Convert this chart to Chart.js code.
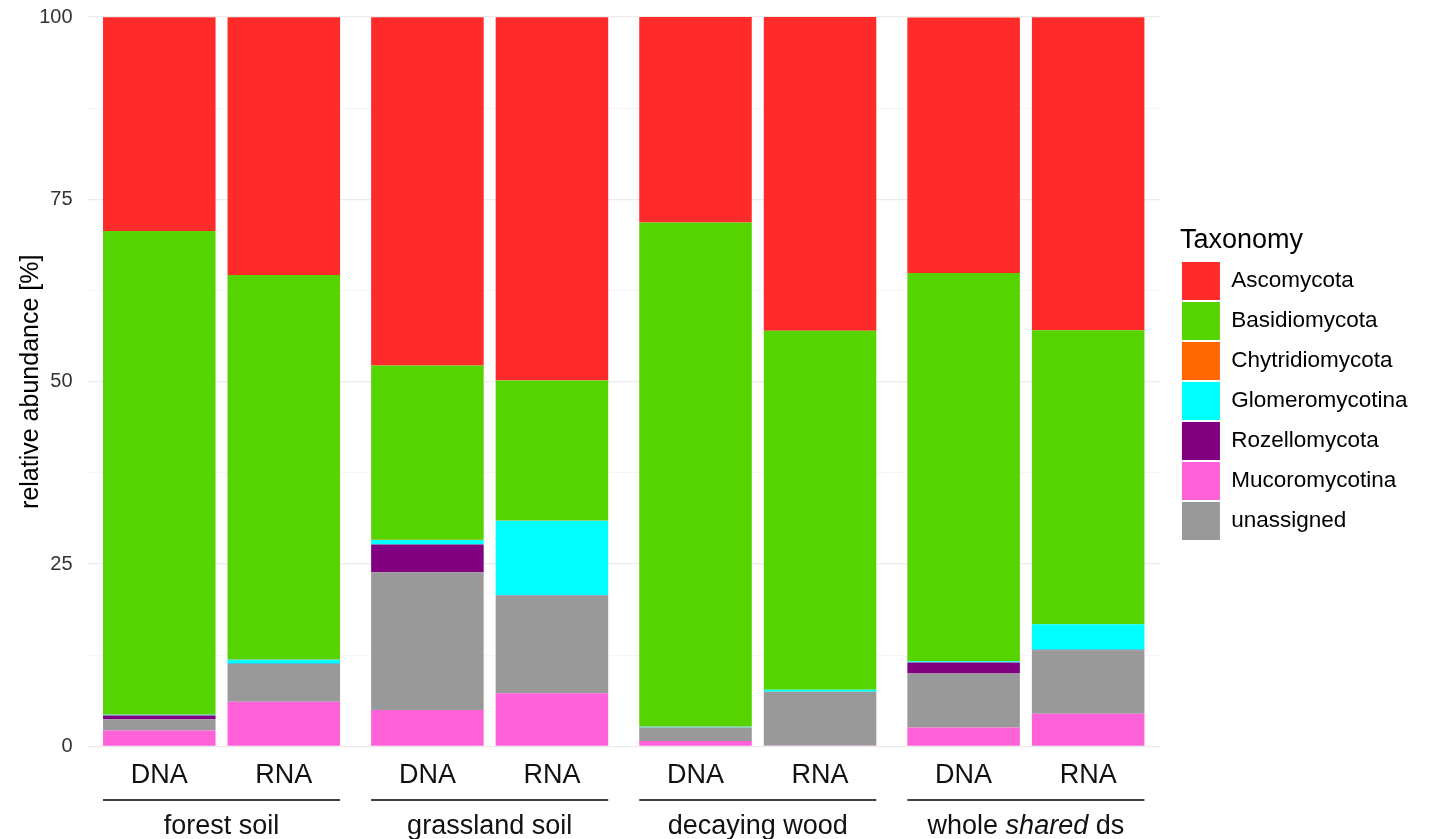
<!DOCTYPE html>
<html>
<head>
<meta charset="utf-8">
<script src="https://cdn.jsdelivr.net/npm/chart.js@4"></script>
<style>
  html, body { margin: 0; padding: 0; background: #fff; }
  #wrap { width: 1430px; height: 839px; }
</style>
</head>
<body>
<div id="wrap"><canvas id="barchart-taxonomy"></canvas></div>
<script>
var groups = ['forest soil', 'grassland soil', 'decaying wood', 'whole *shared* ds'];
var nucleic = ['DNA', 'RNA'];
var taxa = ['Ascomycota', 'Basidiomycota', 'Chytridiomycota', 'Glomeromycotina',
  'Rozellomycota', 'Mucoromycotina', 'unassigned'];
// bottom to top in each bar
var stackOrder = ['Mucoromycotina', 'unassigned', 'Rozellomycota', 'Glomeromycotina',
  'Chytridiomycota', 'Basidiomycota', 'Ascomycota'];

// relative abundance [%], one value per group (forest, grassland, wood, whole)
var ascomycotaDNA = [29.3, 47.75, 28.16, 35.0];
var ascomycotaRNA = [35.35, 49.8, 43.0, 42.9];
var basidiomycotaDNA = [66.3, 23.9, 69.1, 53.2];
var basidiomycotaRNA = [52.7, 19.2, 49.2, 40.3];
var chytridiomycotaDNA = [0.02, 0.03, 0.02, 0.02];
var chytridiomycotaRNA = [0.02, 0.02, 0.02, 0.02];
var glomeromycotinaDNA = [0.1, 0.6, 0.1, 0.2];
var glomeromycotinaRNA = [0.55, 10.2, 0.25, 3.5];
var rozellomycotaDNA = [0.5, 3.8, 0.02, 1.5];
var rozellomycotaRNA = [0.05, 0.05, 0.02, 0.05];
var mucoromycotinaDNA = [2.2, 5.0, 0.75, 2.6];
var mucoromycotinaRNA = [6.15, 7.3, 0.15, 4.5];
var unassignedDNA = [1.55, 18.9, 1.85, 7.4];
var unassignedRNA = [5.15, 13.4, 7.35, 8.7];

var yTicks = [0, 25, 50, 75, 100];

var values = {
  Ascomycota: { DNA: ascomycotaDNA, RNA: ascomycotaRNA },
  Basidiomycota: { DNA: basidiomycotaDNA, RNA: basidiomycotaRNA },
  Chytridiomycota: { DNA: chytridiomycotaDNA, RNA: chytridiomycotaRNA },
  Glomeromycotina: { DNA: glomeromycotinaDNA, RNA: glomeromycotinaRNA },
  Rozellomycota: { DNA: rozellomycotaDNA, RNA: rozellomycotaRNA },
  Mucoromycotina: { DNA: mucoromycotinaDNA, RNA: mucoromycotinaRNA },
  unassigned: { DNA: unassignedDNA, RNA: unassignedRNA }
};

var colors = {
  Ascomycota: '#ff2b2b',
  Basidiomycota: '#55d400',
  Chytridiomycota: '#ff6600',
  Glomeromycotina: '#00ffff',
  Rozellomycota: '#800080',
  Mucoromycotina: '#ff61d8',
  unassigned: '#999999'
};

var FONT = '"Liberation Sans", Arial, Helvetica, sans-serif';

var datasets = [];
stackOrder.forEach(function (taxon) {
  nucleic.forEach(function (n) {
    datasets.push({
      label: taxon,
      stack: n,
      data: values[taxon][n],
      backgroundColor: colors[taxon],
      borderWidth: 0,
      categoryPercentage: 0.929,
      barPercentage: 0.9036
    });
  });
});

// DNA / RNA under each bar, a rule under each pair, then the group name
var facetLabels = {
  id: 'facetLabels',
  afterDraw: function (chart) {
    var ctx = chart.ctx;
    var dnaMeta = chart.getDatasetMeta(0);
    var rnaMeta = chart.getDatasetMeta(1);
    ctx.save();
    ctx.fillStyle = '#111';
    ctx.textBaseline = 'alphabetic';
    ctx.textAlign = 'center';
    ctx.font = '27px ' + FONT;
    groups.forEach(function (g, i) {
      var d = dnaMeta.data[i], r = rnaMeta.data[i];
      ctx.fillText(nucleic[0], d.x, 783);
      ctx.fillText(nucleic[1], r.x, 783);

      var x0 = d.x - d.width / 2, x1 = r.x + r.width / 2;
      ctx.strokeStyle = '#000';
      ctx.lineWidth = 1.6;
      ctx.beginPath();
      ctx.moveTo(x0, 800);
      ctx.lineTo(x1, 800);
      ctx.stroke();

      // group name, *text* in italics
      var parts = g.split('*');
      var widths = parts.map(function (p, k) {
        ctx.font = (k % 2 ? 'italic ' : '') + '27px ' + FONT;
        return ctx.measureText(p).width;
      });
      var total = widths.reduce(function (a, b) { return a + b; }, 0);
      var x = (x0 + x1) / 2 - total / 2;
      ctx.textAlign = 'left';
      parts.forEach(function (p, k) {
        ctx.font = (k % 2 ? 'italic ' : '') + '27px ' + FONT;
        ctx.fillText(p, x, 834);
        x += widths[k];
      });
      ctx.textAlign = 'center';
      ctx.font = '27px ' + FONT;
    });
    ctx.restore();
  }
};

// push the legend a bit off the plot panel
var legendNudge = {
  id: 'legendNudge',
  afterLayout: function (chart) {
    chart.legend.left += 20;
    chart.legend.right += 20;
  }
};

var ctx = document.getElementById('barchart-taxonomy').getContext('2d');

var chart = new Chart(ctx, {
  type: 'bar',
  data: {
    labels: groups.map(function (g) { return g.replace(/\*/g, ''); }),
    datasets: datasets
  },
  plugins: [legendNudge, facetLabels],
  options: {
    responsive: true,
    maintainAspectRatio: false,
    animation: false,
    layout: { padding: { top: 17, right: 32.5, bottom: 0, left: 0 } },
    plugins: {
      tooltip: { enabled: false },
      legend: {
        position: 'right',
        align: 'center',
        fullSize: false,
        title: {
          display: true,
          text: 'Taxonomy',
          position: 'start',
          color: '#000',
          font: { family: FONT, size: 27 },
          padding: { top: 5, bottom: 1 }
        },
        labels: {
          boxWidth: 38,
          boxHeight: 38,
          padding: 2,
          color: '#000',
          font: { family: FONT, size: 22.5 },
          filter: function (item, data) {
            return data.datasets[item.datasetIndex].stack === 'DNA';
          },
          sort: function (a, b) {
            return taxa.indexOf(a.text) - taxa.indexOf(b.text);
          }
        }
      }
    },
    scales: {
      x: {
        stacked: true,
        grid: { display: false },
        border: { display: false },
        ticks: { display: false },
        afterFit: function (scale) { scale.height = 92.5; }
      },
      y: {
        stacked: true,
        min: 0,
        max: 100,
        border: { display: false },
        grid: {
          drawTicks: false,
          color: function (c) { return c.tick.value % 25 === 0 ? '#ebebeb' : '#f5f5f5'; },
          lineWidth: function (c) { return c.tick.value % 25 === 0 ? 1.3 : 0.9; }
        },
        ticks: {
          stepSize: 12.5,
          padding: 15,
          color: '#333',
          font: { family: FONT, size: 20 },
          callback: function (v) { return yTicks.indexOf(v) >= 0 ? v : ''; }
        },
        title: {
          display: true,
          text: 'relative abundance [%]',
          color: '#000',
          font: { family: FONT, size: 25 },
          padding: { top: 16, bottom: 0 }
        },
        afterFit: function (scale) {
          scale.width = 87.5;
          scale.paddingTop = 0;
          scale.paddingBottom = 0;
        }
      }
    }
  }
});
</script>
</body>
</html>
